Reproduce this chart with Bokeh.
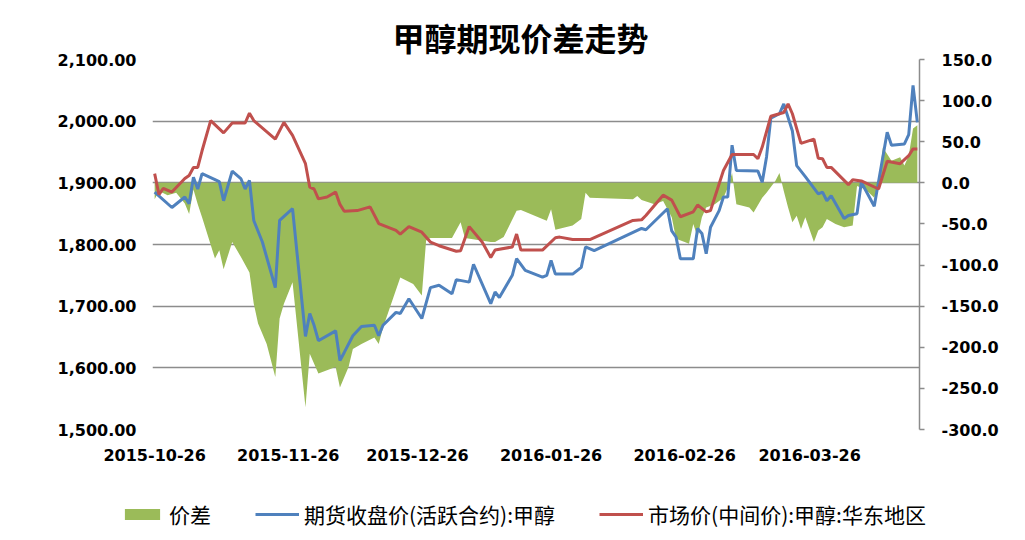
import pandas as pd
from bokeh.plotting import figure
from bokeh.layouts import column
from bokeh.models import (Range1d, LinearAxis, FixedTicker, NumeralTickFormatter,
                          DatetimeTickFormatter, Legend, LegendItem, SingleIntervalTicker)
from bokeh.embed import file_html
from bokeh.resources import INLINE

# ---------------- data ----------------
futures_dates = [
    "2015-10-26", "2015-10-30", "2015-11-02", "2015-11-03", "2015-11-04", "2015-11-05", "2015-11-06",
    "2015-11-10", "2015-11-11", "2015-11-13", "2015-11-15", "2015-11-16", "2015-11-17", "2015-11-18",
    "2015-11-20", "2015-11-23", "2015-11-24", "2015-11-27", "2015-11-30", "2015-12-01", "2015-12-02",
    "2015-12-03", "2015-12-07", "2015-12-08", "2015-12-09", "2015-12-11", "2015-12-13", "2015-12-16",
    "2015-12-17", "2015-12-18", "2015-12-21", "2015-12-22", "2015-12-24", "2015-12-27", "2015-12-29",
    "2015-12-31", "2016-01-03", "2016-01-04", "2016-01-07", "2016-01-08", "2016-01-12", "2016-01-13",
    "2016-01-14", "2016-01-17", "2016-01-18", "2016-01-20", "2016-01-24", "2016-01-25", "2016-01-26",
    "2016-01-27", "2016-01-31", "2016-02-02", "2016-02-03", "2016-02-05", "2016-02-16", "2016-02-17",
    "2016-02-22", "2016-02-23", "2016-02-24", "2016-02-25", "2016-02-28", "2016-02-29", "2016-03-01",
    "2016-03-02", "2016-03-03", "2016-03-05", "2016-03-06", "2016-03-07", "2016-03-08", "2016-03-09",
    "2016-03-14", "2016-03-15", "2016-03-16", "2016-03-17", "2016-03-19", "2016-03-20", "2016-03-22",
    "2016-03-23", "2016-03-25", "2016-03-28", "2016-03-29", "2016-03-30", "2016-03-31", "2016-04-03",
    "2016-04-04", "2016-04-06", "2016-04-07", "2016-04-10", "2016-04-13", "2016-04-14", "2016-04-17",
    "2016-04-18", "2016-04-19", "2016-04-20",
]
futures_close = [
    1885, 1860, 1877, 1866, 1909, 1890, 1915,
    1902, 1871, 1919, 1907, 1890, 1904, 1839,
    1804, 1730, 1839, 1858, 1651, 1688, 1669,
    1644, 1660, 1612, 1625, 1652, 1667, 1669,
    1652, 1669, 1690, 1688, 1712, 1680, 1730,
    1734, 1720, 1743, 1739, 1768, 1704, 1723,
    1714, 1750, 1777, 1758, 1747, 1750, 1774,
    1752, 1752, 1763, 1796, 1790, 1826, 1824,
    1858, 1822, 1812, 1777, 1777, 1826, 1818,
    1785, 1828, 1855, 1877, 1877, 1961, 1920,
    1919, 1901, 1942, 2005, 2012, 2028, 1984,
    1928, 1910, 1882, 1885, 1871, 1879, 1842,
    1847, 1850, 1901, 1862, 1982, 1961, 1963,
    1978, 2058, 1998,
]

spot_dates = [
    "2015-10-26", "2015-10-27", "2015-10-28", "2015-10-30", "2015-11-02", "2015-11-03", "2015-11-04",
    "2015-11-05", "2015-11-06", "2015-11-08", "2015-11-11", "2015-11-13", "2015-11-16", "2015-11-17",
    "2015-11-18", "2015-11-23", "2015-11-25", "2015-11-27", "2015-11-30", "2015-12-01", "2015-12-02",
    "2015-12-03", "2015-12-05", "2015-12-07", "2015-12-08", "2015-12-09", "2015-12-12", "2015-12-15",
    "2015-12-17", "2015-12-21", "2015-12-22", "2015-12-24", "2015-12-27", "2015-12-29", "2015-12-31",
    "2016-01-04", "2016-01-05", "2016-01-07", "2016-01-10", "2016-01-12", "2016-01-13", "2016-01-17",
    "2016-01-18", "2016-01-19", "2016-01-24", "2016-01-27", "2016-01-28", "2016-01-31", "2016-02-04",
    "2016-02-14", "2016-02-16", "2016-02-17", "2016-02-21", "2016-02-23", "2016-02-25", "2016-02-28",
    "2016-02-29", "2016-03-02", "2016-03-03", "2016-03-06", "2016-03-08", "2016-03-13", "2016-03-14",
    "2016-03-15", "2016-03-17", "2016-03-20", "2016-03-21", "2016-03-22", "2016-03-24", "2016-03-27",
    "2016-03-28", "2016-03-29", "2016-03-30", "2016-03-31", "2016-04-04", "2016-04-05", "2016-04-07",
    "2016-04-11", "2016-04-13", "2016-04-16", "2016-04-18", "2016-04-19", "2016-04-20",
]
spot_price = [
    1915, 1881, 1891, 1885, 1907, 1912, 1925,
    1925, 1952, 2001, 1981, 1997, 1997, 2013,
    2001, 1971, 1998, 1977, 1931, 1893, 1890,
    1874, 1877, 1885, 1865, 1854, 1855, 1861,
    1834, 1823, 1817, 1829, 1820, 1804, 1798,
    1789, 1790, 1829, 1804, 1779, 1791, 1796,
    1817, 1791, 1791, 1811, 1812, 1808, 1808,
    1839, 1840, 1847, 1880, 1872, 1845, 1853,
    1864, 1853, 1855, 1920, 1946, 1946, 1939,
    1958, 2008, 2014, 2028, 2012, 1964, 1971,
    1940, 1939, 1925, 1925, 1897, 1905, 1903,
    1890, 1935, 1931, 1944, 1955, 1955,
]

spread_dates = [
    "2015-10-26", "2015-10-27", "2015-10-29", "2015-10-31", "2015-11-02", "2015-11-03", "2015-11-04",
    "2015-11-05", "2015-11-06", "2015-11-09", "2015-11-10", "2015-11-11", "2015-11-13", "2015-11-15",
    "2015-11-17", "2015-11-18", "2015-11-19", "2015-11-21", "2015-11-23", "2015-11-24", "2015-11-25",
    "2015-11-27", "2015-11-30", "2015-12-01", "2015-12-03", "2015-12-07", "2015-12-08", "2015-12-10",
    "2015-12-11", "2015-12-13", "2015-12-16", "2015-12-17", "2015-12-18", "2015-12-22", "2015-12-25",
    "2015-12-27", "2015-12-28", "2015-12-29", "2016-01-03", "2016-01-05", "2016-01-06", "2016-01-12",
    "2016-01-13", "2016-01-15", "2016-01-18", "2016-01-19", "2016-01-24", "2016-01-25", "2016-01-26",
    "2016-01-27", "2016-01-31", "2016-02-02", "2016-02-03", "2016-02-04", "2016-02-14", "2016-02-15",
    "2016-02-16", "2016-02-19", "2016-02-21", "2016-02-23", "2016-02-24", "2016-02-26", "2016-02-27",
    "2016-02-28", "2016-02-29", "2016-03-01", "2016-03-02", "2016-03-04", "2016-03-06", "2016-03-07",
    "2016-03-08", "2016-03-09", "2016-03-12", "2016-03-13", "2016-03-15", "2016-03-16", "2016-03-18",
    "2016-03-19", "2016-03-20", "2016-03-21", "2016-03-22", "2016-03-23", "2016-03-24", "2016-03-25",
    "2016-03-27", "2016-03-28", "2016-03-29", "2016-03-30", "2016-04-01", "2016-04-03", "2016-04-05",
    "2016-04-06", "2016-04-08", "2016-04-10", "2016-04-11", "2016-04-12", "2016-04-14", "2016-04-16",
    "2016-04-17", "2016-04-18", "2016-04-19", "2016-04-20",
]
spread_value = [
    -20, -10, -15, -12, -25, -38, -8,
    -26, -42, -92, -82, -105, -72, -90,
    -109, -147, -171, -196, -236, -165, -147,
    -121, -273, -208, -232, -224, -249, -224,
    -202, -196, -188, -196, -176, -115, -123,
    -137, -70, -67, -67, -48, -67, -72,
    -72, -66, -34, -33, -44, -46, -32,
    -57, -52, -44, -12, -18, -20, -16,
    -21, -26, -22, -42, -68, -72, -74,
    -50, -66, -42, -30, -26, -18, -6,
    12, -26, -30, -36, -18, -12, 2,
    12, -10, -30, -48, -40, -56, -42,
    -72, -58, -54, -44, -50, -54, -52,
    -4, -8, -18, 0, 43, 27, 31,
    21, 33, 66, 70,
]

x_tick_dates = ["2015-10-26", "2015-11-26", "2015-12-26", "2016-01-26", "2016-02-26", "2016-03-26"]
left_ticks = [1500, 1600, 1700, 1800, 1900, 2000, 2100]

title_text = "甲醇期现价差走势"
legend_labels = ["价差", "期货收盘价(活跃合约):甲醇", "市场价(中间价):甲醇:华东地区"]

GREEN, BLUE, RED = "#9BBB59", "#4F81BD", "#C0504D"

# ---------------- main figure ----------------
fd = pd.to_datetime(futures_dates)
sd = pd.to_datetime(spot_dates)
pd_ = pd.to_datetime(spread_dates)
half_day = pd.Timedelta(hours=12)
x_start = min(fd.min(), sd.min(), pd_.min()) - half_day
x_end = max(fd.max(), sd.max(), pd_.max()) + half_day

p = figure(width=1017, height=470, output_backend="svg", toolbar_location=None,
           x_axis_type="datetime",
           x_range=Range1d(x_start, x_end), y_range=Range1d(1500, 2100),
           min_border_left=152, min_border_right=98, min_border_top=59, min_border_bottom=41)
p.extra_y_ranges = {"spread": Range1d(-300, 150)}
p.outline_line_color = None
p.background_fill_color = "white"
p.border_fill_color = "white"

p.title.text = title_text
p.title.align = "left"
p.title.offset = 240
p.title.text_font = "Noto Sans CJK SC"
p.title.text_font_size = "32px"
p.title.text_font_style = "bold"
p.title.text_color = "black"
p.title.standoff = 0

tick_font = "DejaVu Sans"
# x axis
xa = p.xaxis[0]
xa.ticker = FixedTicker(ticks=[pd.Timestamp(d).value / 1e6 for d in x_tick_dates])
fmt = "%Y-%m-%d"
xa.formatter = DatetimeTickFormatter(days=fmt, months=fmt, years=fmt, hours=fmt,
                                     minutes=fmt, seconds=fmt, milliseconds=fmt, microseconds=fmt)
xa.axis_line_color = None
xa.major_tick_line_color = None
xa.major_tick_out = 0
xa.major_tick_in = 0
xa.minor_tick_line_color = None
xa.minor_tick_out = 0
xa.major_label_standoff = 19
xa.major_label_text_font = tick_font
xa.major_label_text_font_style = "bold"
xa.major_label_text_font_size = "16px"
xa.major_label_text_color = "black"

# left axis
ya = p.yaxis[0]
ya.ticker = FixedTicker(ticks=left_ticks)
ya.formatter = NumeralTickFormatter(format="0,0.00")
ya.axis_line_color = None
ya.major_tick_line_color = None
ya.major_tick_out = 0
ya.major_tick_in = 0
ya.minor_tick_line_color = None
ya.minor_tick_out = 0
ya.major_label_standoff = 16
ya.major_label_text_font = tick_font
ya.major_label_text_font_style = "bold"
ya.major_label_text_font_size = "16px"
ya.major_label_text_color = "black"

# right axis
ra = LinearAxis(y_range_name="spread", ticker=SingleIntervalTicker(interval=50),
                formatter=NumeralTickFormatter(format="0.0"))
ra.axis_line_color = "#8c8c8c"
ra.axis_line_width = 1.5
ra.major_tick_line_color = "#8c8c8c"
ra.major_tick_line_width = 1.5
ra.major_tick_out = 5
ra.major_tick_in = 0
ra.minor_tick_line_color = None
ra.major_label_standoff = 17
ra.major_label_text_font = tick_font
ra.major_label_text_font_style = "bold"
ra.major_label_text_font_size = "16px"
ra.major_label_text_color = "black"
p.add_layout(ra, "right")

p.xgrid.visible = False
p.ygrid.ticker = FixedTicker(ticks=left_ticks)
p.ygrid.grid_line_color = "#8c8c8c"
p.ygrid.grid_line_width = 1.5

# glyphs
p.varea(x=pd_, y1=0, y2=spread_value, fill_color=GREEN, y_range_name="spread")
p.line(x=fd, y=futures_close, line_color=BLUE, line_width=3)
p.line(x=sd, y=spot_price, line_color=RED, line_width=3)

# ---------------- legend strip (below the chart) ----------------
lg = figure(width=1017, height=62, output_backend="svg", toolbar_location=None,
            x_axis_location=None, y_axis_location=None, min_border=0,
            x_range=Range1d(0, 1), y_range=Range1d(0, 1))
lg.frame_align = False
lg.outline_line_color = None
lg.grid.visible = False
lg.background_fill_color = "white"
lg.border_fill_color = "white"
# legend key stand-ins, placed outside the visible range so only their legend swatches show
k_area = lg.varea(x=[-5, -4], y1=[-5, -5], y2=[-4, -4], fill_color=GREEN)
k_blue = lg.line(x=[-5, -4], y=[-5, -4], line_color=BLUE, line_width=3)
k_red = lg.line(x=[-5, -4], y=[-5, -4], line_color=RED, line_width=3)

legend = Legend(items=[LegendItem(label=legend_labels[0], renderers=[k_area]),
                       LegendItem(label=legend_labels[1], renderers=[k_blue]),
                       LegendItem(label=legend_labels[2], renderers=[k_red])],
                location=(120, 3), orientation="horizontal",
                border_line_color=None, background_fill_alpha=0,
                label_text_font="Noto Sans CJK SC", label_text_font_size="21px",
                label_text_color="black",
                glyph_width=44, glyph_height=14, label_standoff=5, spacing=44,
                padding=0, margin=0, label_height=24)
lg.add_layout(legend, "center")

layout = column(p, lg, spacing=0)
open("out.html", "w").write(file_html(layout, INLINE))
